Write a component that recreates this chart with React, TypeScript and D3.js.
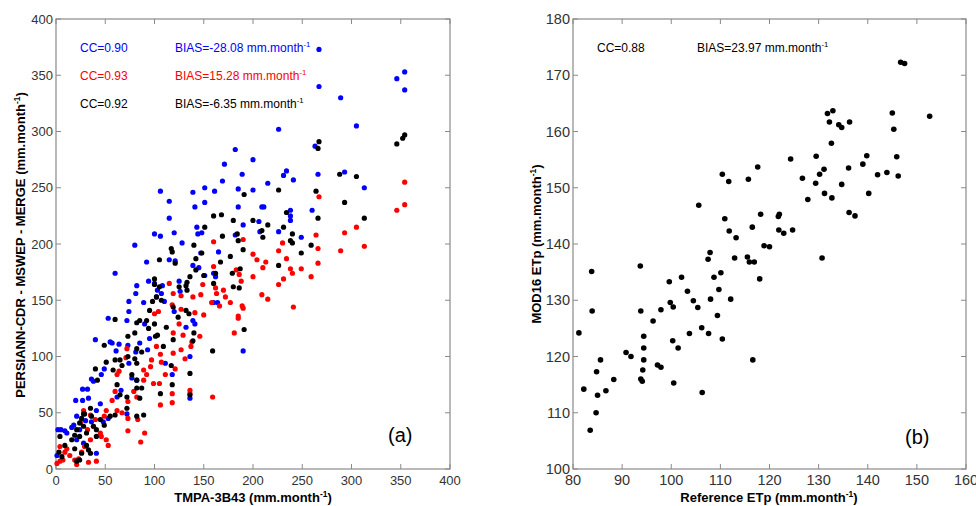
import React from 'react';
import * as d3 from 'd3';

const FONT = "'Liberation Sans', Arial, Helvetica, sans-serif";

// ---------- Panel (a) data ----------
const blueA: [number, number][] = [
  [267,373],[354,353],[346,347],[354,337],[267,340],[289,330],[305,305],[226,302],[182,284],[263,287],[200,275],[171,271],[293,264],[234,265],[266,262],[189,262],[231,261],[241,257],[215,254],[169,256],[106,247],[139,246],[151,250],[185,249],[313,250],[200,248],[115,238],[151,237],[161,247],[185,233],[141,233],[260,230],[238,230],[209,233],[211,233],[238,225],[238,221],[115,223],[120,210],[100,209],[106,207],[80,199],[128,201],[143,215],[148,210],[144,209],[182,208],[165,193],[147,192],[206,220],[207,211],[226,211],[249,206],[190,217],[92,184],[115,186],[121,185],[139,181],[82,163],[81,156],[94,167],[100,165],[103,159],[102,153],[108,163],[107,156],[125,167],[126,158],[145,179],[151,172],[162,171],[164,148],[132,126],[139,132],[141,129],[74,149],[74,140],[72,132],[89,148],[90,129],[110,149],[120,140],[93,106],[95,116],[111,94],[118,84],[136,100],[60,174],[53,134],[55,113],[57,112],[40,115],[61,105],[64,111],[73,110],[85,112],[81,104],[74,94],[82,79],[66,70],[62,64],[49,89],[46,84],[36,80],[38,78],[27,71],[32,71],[20,61],[27,61],[33,63],[45,58],[41,52],[53,45],[48,42],[36,42],[21,47],[18,39],[16,37],[2,35],[5,35],[9,34],[11,32],[24,35],[30,43],[41,14],[28,23],[21,26],[1,12],[72,49],[77,81],[136,63],[160,148],[190,105],[160,174]
];
const redA: [number, number][] = [
  [354,255],[267,242],[346,230],[354,235],[264,208],[293,210],[305,215],[313,198],[289,194],[266,196],[266,183],[230,201],[226,194],[234,187],[238,178],[240,174],[249,178],[259,171],[241,144],[226,164],[231,169],[200,191],[204,186],[190,204],[213,184],[210,179],[200,171],[209,155],[215,151],[183,177],[186,173],[188,167],[189,145],[190,143],[185,136],[185,134],[181,121],[160,202],[160,180],[162,161],[163,156],[158,148],[166,145],[170,159],[172,153],[177,148],[139,153],[141,139],[149,164],[147,155],[150,137],[146,118],[138,113],[136,70],[136,67],[159,64],[119,156],[115,165],[118,146],[127,154],[127,142],[125,129],[129,119],[119,121],[119,103],[127,106],[131,98],[137,109],[106,102],[107,95],[100,138],[104,140],[102,109],[97,97],[96,91],[99,76],[105,76],[106,57],[118,67],[118,59],[121,89],[111,84],[89,88],[92,84],[89,79],[82,64],[79,69],[73,60],[83,44],[90,32],[86,24],[73,34],[73,45],[72,107],[71,99],[64,87],[62,84],[60,69],[57,61],[62,52],[67,50],[53,21],[51,26],[46,29],[45,32],[38,38],[32,35],[35,26],[29,20],[26,15],[23,9],[21,4],[19,8],[14,12],[9,15],[7,8],[4,7],[11,18],[41,7],[33,6],[40,44],[35,48],[28,52],[25,41],[51,52],[49,47],[1,5],[4,20]
];
const blackA: [number, number][] = [
  [354,297],[352,294],[346,289],[267,291],[266,285],[288,262],[305,260],[293,237],[313,223],[264,247],[266,223],[226,248],[231,215],[234,228],[240,209],[240,201],[238,203],[259,199],[249,192],[226,181],[215,217],[209,212],[210,206],[200,221],[191,244],[190,195],[184,209],[185,203],[180,221],[187,178],[180,162],[186,161],[191,124],[179,174],[168,226],[160,225],[169,207],[177,189],[167,184],[162,174],[160,165],[148,192],[151,215],[150,172],[140,199],[142,187],[142,177],[136,171],[133,166],[132,163],[133,159],[132,141],[135,138],[140,121],[139,114],[125,162],[117,196],[118,193],[121,183],[105,186],[100,169],[100,164],[105,162],[102,153],[98,149],[107,150],[95,141],[100,129],[119,144],[124,135],[119,115],[112,126],[103,119],[101,118],[109,109],[117,92],[118,75],[106,67],[136,85],[136,66],[159,105],[92,132],[94,125],[85,132],[82,130],[80,121],[73,118],[82,107],[87,104],[73,100],[80,98],[82,94],[82,79],[82,72],[87,72],[85,63],[82,47],[89,48],[60,133],[51,95],[49,110],[60,97],[65,97],[67,92],[58,88],[77,84],[40,89],[42,79],[62,75],[65,66],[72,64],[72,54],[60,48],[55,47],[49,39],[45,44],[41,35],[41,29],[38,38],[36,47],[35,54],[29,49],[26,45],[24,41],[28,38],[31,32],[24,29],[21,35],[19,30],[16,26],[19,18],[26,14],[33,17],[24,8],[21,7],[9,21],[4,29],[3,15],[6,11],[31,21],[35,14],[28,49]
];
const ccLabelsA = ['CC=0.90', 'CC=0.93', 'CC=0.92'];
const biasLabelsA = ['BIAS=-28.08 mm.month', 'BIAS=15.28 mm.month', 'BIAS=-6.35 mm.month'];
const ticksA = [0, 50, 100, 150, 200, 250, 300, 350, 400];

// ---------- Panel (b) data ----------
const pointsB: [number, number][] = [
  [81.2,124.2],[82.2,114.2],[83.5,106.9],[83.8,135.1],[83.9,128.1],[84.7,110.0],[84.8,117.3],[85.0,113.1],[85.6,119.4],[86.7,113.9],[88.3,115.9],[90.8,120.7],[91.8,120.0],[93.7,136.1],[93.8,128.1],[93.8,116.0],[94.1,115.6],[94.2,117.6],[94.4,123.6],[94.4,121.5],[94.4,119.4],[96.3,126.3],[97.2,118.5],[97.9,118.1],[97.9,128.3],[99.6,133.3],[99.8,129.6],[100.4,128.8],[100.3,122.8],[100.5,115.3],[101.4,121.5],[102.1,134.1],[103.3,131.6],[103.7,124.1],[104.5,129.9],[105.4,128.7],[105.6,146.9],[106.2,125.1],[106.3,113.6],[107.5,137.3],[107.6,124.1],[107.9,138.5],[108.0,130.2],[108.7,134.1],[109.4,127.3],[109.7,131.9],[110.1,134.9],[110.4,152.4],[110.4,123.1],[110.9,144.5],[111.7,151.1],[111.8,142.3],[112.1,130.2],[112.9,137.5],[113.2,141.1],[115.5,137.7],[115.7,151.5],[115.9,136.8],[116.5,143.0],[116.6,119.4],[116.9,136.8],[117.6,153.7],[118.0,133.8],[118.2,145.3],[118.9,139.7],[120.0,139.5],[121.8,144.9],[122.0,145.3],[121.9,142.5],[122.9,141.9],[124.3,155.1],[124.7,142.5],[126.7,151.7],[127.8,147.9],[129.5,155.6],[129.4,150.8],[130.2,152.4],[130.7,137.5],[131.1,153.3],[131.2,149.0],[131.8,163.2],[132.2,161.7],[132.6,157.9],[132.7,148.2],[132.9,163.7],[134.1,161.2],[134.7,160.7],[134.7,150.6],[136.1,153.5],[136.3,161.7],[136.2,145.6],[137.4,145.0],[139.0,154.2],[139.8,155.7],[140.2,149.0],[142.0,152.3],[143.9,152.7],[145.0,163.3],[145.3,160.4],[145.9,155.5],[146.2,152.1],[146.7,172.3],[147.5,172.1],[152.6,162.7]
];
const ccLabelB = 'CC=0.88';
const biasLabelB = 'BIAS=23.97 mm.month';
const xTicksB = [80, 90, 100, 110, 120, 130, 140, 150, 160];
const yTicksB = [100, 110, 120, 130, 140, 150, 160, 170, 180];

const seriesColors = ['#0000ff', '#ff0000', '#000000'];

function UnitText(props: { x: number; y: number; text: string; size: number; weight?: string; fill?: string; anchor?: string; transform?: string; close?: boolean }) {
  const { x, y, text, size, weight = 'normal', fill = '#000', anchor = 'start', transform, close } = props;
  return (
    <text x={x} y={y} fontSize={size} fontWeight={weight} fill={fill} textAnchor={anchor} transform={transform} fontFamily={FONT}>
      {text}
      <tspan dy={-5} fontSize={size * 0.65}>-1</tspan>
      {close ? <tspan dy={5}>)</tspan> : null}
    </text>
  );
}

type PanelProps = {
  left: number; right: number; top: number; bottom: number;
  xDomain: [number, number]; yDomain: [number, number];
  xTicks: number[]; yTicks: number[]; tickFont: number;
  children: (x: d3.ScaleLinear<number, number>, y: d3.ScaleLinear<number, number>) => React.ReactNode;
};

function Panel({ left, right, top, bottom, xDomain, yDomain, xTicks, yTicks, tickFont, children }: PanelProps) {
  const x = d3.scaleLinear().domain(xDomain).range([left, right]);
  const y = d3.scaleLinear().domain(yDomain).range([bottom, top]);
  const tl = 5;
  const axisColor = '#8a8a8a';
  return (
    <g>
      <rect x={left} y={top} width={right - left} height={bottom - top} fill="#fff" stroke={axisColor} strokeWidth={1.2} />
      {xTicks.map((t) => (
        <g key={'xt' + t}>
          <line x1={x(t)} x2={x(t)} y1={bottom} y2={bottom - tl} stroke={axisColor} />
          <line x1={x(t)} x2={x(t)} y1={top} y2={top + tl} stroke={axisColor} />
          <text x={x(t)} y={bottom + 16} textAnchor="middle" fontSize={tickFont} fill="#333" fontFamily={FONT}>{t}</text>
        </g>
      ))}
      {yTicks.map((t) => (
        <g key={'yt' + t}>
          <line x1={left} x2={left + tl} y1={y(t)} y2={y(t)} stroke={axisColor} />
          <line x1={right} x2={right - tl} y1={y(t)} y2={y(t)} stroke={axisColor} />
          <text x={left - 3} y={y(t) + tickFont * 0.36} textAnchor="end" fontSize={tickFont} fill="#333" fontFamily={FONT}>{t}</text>
        </g>
      ))}
      {children(x, y)}
    </g>
  );
}

export default function App() {
  const seriesA = [blueA, redA, blackA];
  return (
    <svg width={976} height={506} style={{ position: 'absolute', left: 0, top: 0, background: '#fff' }}>
      <rect x={0} y={0} width={976} height={506} fill="#fff" />
      <Panel left={56} right={450} top={19} bottom={469} xDomain={[0, 400]} yDomain={[0, 400]} xTicks={ticksA} yTicks={ticksA} tickFont={13}>
        {(x, y) => (
          <g>
            {seriesA.map((s, i) => (
              <g key={'s' + i} fill={seriesColors[i]}>
                {s.map((d, j) => (
                  <circle key={j} cx={x(d[0])} cy={y(d[1])} r={2.6} />
                ))}
              </g>
            ))}
            {ccLabelsA.map((t, i) => (
              <text key={'cc' + i} x={80} y={52 + i * 28} fontSize={12} fill={seriesColors[i]} fontFamily={FONT}>{t}</text>
            ))}
            {biasLabelsA.map((t, i) => (
              <UnitText key={'b' + i} x={175} y={52 + i * 28} text={t} size={12} fill={seriesColors[i]} />
            ))}
            <text x={388} y={442} fontSize={20} fill="#000" fontFamily={FONT}>(a)</text>
          </g>
        )}
      </Panel>
      <UnitText x={253} y={502} text="TMPA-3B43 (mm.month" size={13} weight="bold" anchor="middle" close />
      <UnitText x={0} y={0} text="PERSIANN-CDR - MSWEP - MERGE (mm.month" size={13} weight="bold" anchor="middle" close transform="translate(25,245) rotate(-90)" />

      <Panel left={573} right={966} top={19} bottom={469} xDomain={[80, 160]} yDomain={[100, 180]} xTicks={xTicksB} yTicks={yTicksB} tickFont={14.5}>
        {(x, y) => (
          <g>
            <g fill="#000">
              {pointsB.map((d, j) => (
                <circle key={j} cx={x(d[0])} cy={y(d[1])} r={2.8} />
              ))}
            </g>
            <text x={597} y={52} fontSize={12} fill="#000" fontFamily={FONT}>{ccLabelB}</text>
            <UnitText x={697} y={52} text={biasLabelB} size={12} fill="#000" />
            <text x={905} y={444} fontSize={20} fill="#000" fontFamily={FONT}>(b)</text>
          </g>
        )}
      </Panel>
      <UnitText x={769} y={502} text="Reference ETp (mm.month" size={13} weight="bold" anchor="middle" close />
      <UnitText x={0} y={0} text="MOD16 ETp (mm.month" size={13} weight="bold" anchor="middle" close transform="translate(541,244) rotate(-90)" />
    </svg>
  );
}
